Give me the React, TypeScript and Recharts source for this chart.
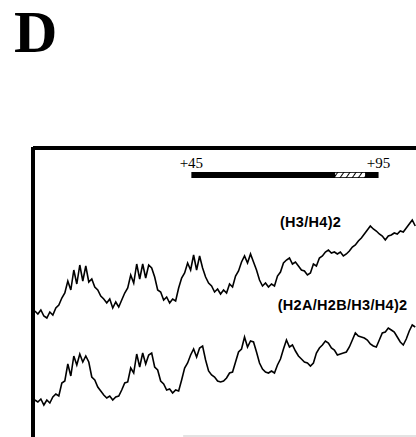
import React from 'react';
import {
  LineChart,
  Line,
  XAxis,
  YAxis,
  ReferenceLine,
  ReferenceArea,
  ReferenceDot
} from 'recharts';

// densitometer traces (arbitrary intensity units)
const upperTrace = [
  126, 123, 127, 121, 119, 125, 122, 129, 132, 139,
  144, 156, 147, 167, 153, 172, 156, 171, 155, 158,
  150, 147, 141, 138, 134, 138, 129, 135, 130, 137,
  144, 149, 162, 154, 173, 158, 173, 159, 172, 169,
  160, 147, 145, 137, 140, 134, 138, 136, 149, 159,
  164, 174, 167, 182, 167, 181, 169, 160, 154, 151,
  145, 148, 143, 147, 144, 153, 150, 161, 166, 175,
  181, 174, 183, 175, 167, 157, 151, 154, 150, 153,
  151, 161, 165, 174, 177, 179, 173, 175, 171, 167,
  166, 162, 164, 173, 171, 179, 181, 185, 187, 184,
  185, 183, 185, 181, 183, 186, 190, 192, 196, 199,
  203, 207, 211, 208, 206, 203, 201, 197, 201, 202,
  204, 203, 206, 205, 209, 213, 217, 211
];

const lowerTrace = [
  37, 35, 38, 32, 37, 34, 40, 43, 41, 54,
  56, 73, 61, 81, 72, 83, 75, 81, 75, 60,
  57, 50, 46, 42, 39, 41, 37, 40, 41, 47,
  54, 55, 69, 64, 83, 70, 84, 73, 82, 84,
  70, 67, 56, 53, 47, 48, 44, 47, 46, 57,
  69, 74, 82, 88, 80, 89, 91, 77, 66, 62,
  60, 56, 55, 56, 59, 64, 65, 75, 85, 88,
  100, 90, 96, 95, 85, 74, 68, 65, 64, 66,
  64, 72, 78, 88, 97, 90, 92, 86, 81, 78,
  75, 74, 71, 74, 84, 89, 92, 96, 94, 89,
  87, 82, 83, 84, 85, 90, 97, 104, 101, 100,
  99, 97, 93, 91, 90, 97, 104, 105, 109, 107,
  105, 100, 95, 92, 98, 106, 112, 110
];

// nucleotide position of each sample
const positions = upperTrace.map((_, i) => +(3.2 + i * 0.8).toFixed(1));

const regionStart = 45;
const regionEnd = 95;
const hatchStart = 83.4;
const hatchEnd = 91.4;

const data = positions.map((pos, i) => ({
  pos,
  upper: upperTrace[i],
  lower: lowerTrace[i]
}));

const labelFont = { fill: '#000', fontSize: 14.5, fontWeight: 700, fontFamily: '"Liberation Sans", Arial, sans-serif', letterSpacing: 0.3 };
const tickFont = { fill: '#000', fontSize: 15, fontFamily: '"Liberation Serif", "Times New Roman", serif' };

export default function App() {
  return (
    <div style={{ position: 'absolute', left: 0, top: 0, width: 416, height: 437, background: '#fff' }}>
      <div
        style={{
          position: 'absolute',
          left: 14,
          top: 2,
          fontFamily: '"Liberation Serif", "Times New Roman", serif',
          fontWeight: 700,
          fontSize: 60,
          lineHeight: 1
        }}
      >
        D
      </div>
      <LineChart width={416} height={437} data={data} margin={{ top: 147, right: 0, bottom: 0, left: 33 }}>
        <defs>
          <pattern id="hatch" patternUnits="userSpaceOnUse" width="5" height="6" patternTransform="rotate(35)">
            <rect width="5" height="6" fill="#fff" />
            <line x1="0" y1="0" x2="0" y2="6" stroke="#000" strokeWidth="2" />
          </pattern>
        </defs>
        <XAxis type="number" dataKey="pos" domain={[2.7, 105]} hide />
        <YAxis type="number" domain={[0, 290]} hide />

        {/* frame */}
        <ReferenceLine y={289} stroke="#000" strokeWidth={4} />
        <ReferenceLine x={2.7} stroke="#000" strokeWidth={4} />
        <ReferenceLine segment={[{ x: 42.8, y: 1 }, { x: 105, y: 1 }]} stroke="#dadada" strokeWidth={1.5} />

        {/* protected region bar */}
        <ReferenceArea x1={regionStart} x2={regionEnd} y1={259} y2={265} fill="#000" fillOpacity={1} stroke="none" />
        <ReferenceArea x1={hatchStart} x2={hatchEnd} y1={259.8} y2={264.2} fill="url(#hatch)" fillOpacity={1} stroke="none" />
        <ReferenceDot x={regionStart} y={274} r={1} fill="none" stroke="none" label={{ value: '+45', position: 'center', ...tickFont }} />
        <ReferenceDot x={regionEnd} y={274} r={1} fill="none" stroke="none" label={{ value: '+95', position: 'center', ...tickFont }} />

        {/* trace labels */}
        <ReferenceDot x={68.4} y={215} r={1} fill="none" stroke="none" label={{ value: '(H3/H4)2', position: 'right', offset: 0, ...labelFont }} />
        <ReferenceDot x={67.8} y={132} r={1} fill="none" stroke="none" label={{ value: '(H2A/H2B/H3/H4)2', position: 'right', offset: 0, ...labelFont }} />

        <Line type="linear" dataKey="upper" stroke="#000" strokeWidth={1.6} dot={false} isAnimationActive={false} />
        <Line type="linear" dataKey="lower" stroke="#000" strokeWidth={1.6} dot={false} isAnimationActive={false} />
      </LineChart>
    </div>
  );
}
